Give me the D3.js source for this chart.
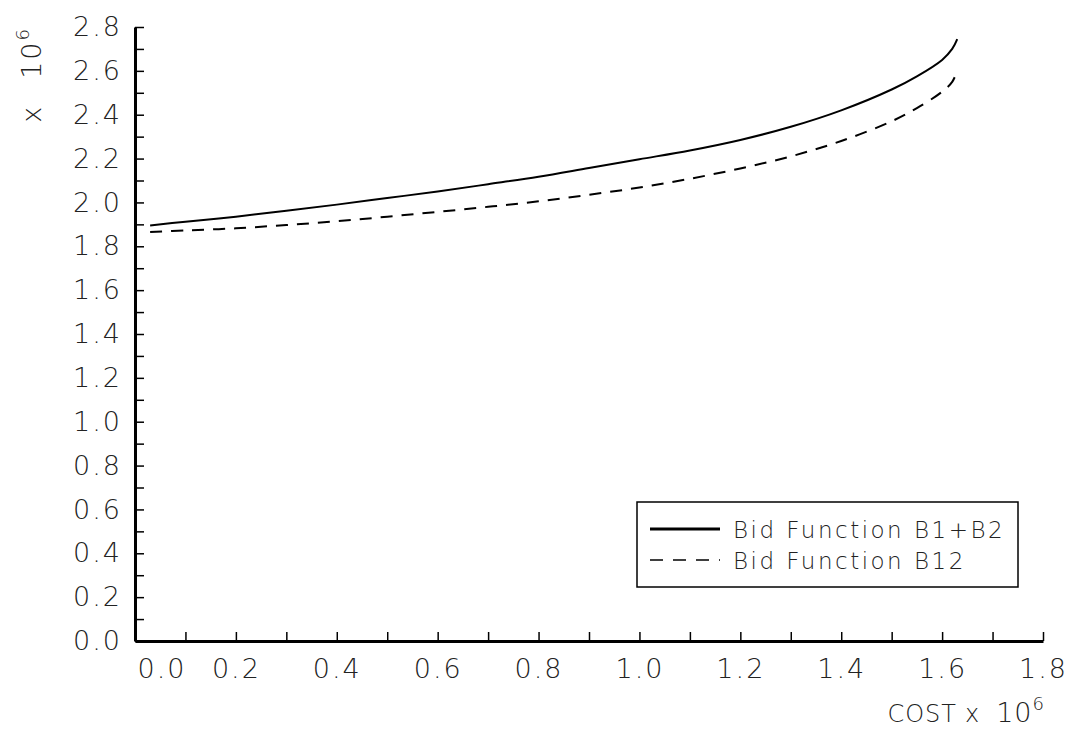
<!DOCTYPE html>
<html>
<head>
<meta charset="utf-8">
<script src="https://cdn.jsdelivr.net/npm/d3@7"></script>
<style>
  body { margin: 0; background: #fff; }
  text { font-family: "DejaVu Sans", sans-serif; font-weight: 200; fill: #222; }
</style>
</head>
<body>
<svg id="chart"></svg>
<script>
// cost values (x 10^6)
var cost = [0.03, 0.1, 0.2, 0.3, 0.4, 0.5, 0.6, 0.7, 0.8, 0.9, 1.0, 1.1, 1.2, 1.3, 1.4, 1.5, 1.55, 1.6, 1.62, 1.63];
var bidB1B2 = [1.895, 1.912, 1.935, 1.962, 1.99, 2.02, 2.05, 2.083, 2.117, 2.157, 2.197, 2.237, 2.285, 2.345, 2.42, 2.515, 2.575, 2.65, 2.7, 2.745];
var bidB12  = [1.865, 1.872, 1.882, 1.897, 1.914, 1.935, 1.957, 1.98, 2.005, 2.035, 2.068, 2.108, 2.155, 2.21, 2.28, 2.37, 2.43, 2.505, 2.55, 2.60];

var xTickLabels = ["0.0", "0.2", "0.4", "0.6", "0.8", "1.0", "1.2", "1.4", "1.6", "1.8"];
var yTickLabels = ["0.0", "0.2", "0.4", "0.6", "0.8", "1.0", "1.2", "1.4", "1.6", "1.8", "2.0", "2.2", "2.4", "2.6", "2.8"];
var seriesNames = ["Bid Function B1+B2", "Bid Function B12"];

var width = 1075, height = 738;
var svg = d3.select("#chart")
    .attr("width", width)
    .attr("height", height);

var x = d3.scaleLinear().domain([0, 1.8]).range([135, 1043]);
var y = d3.scaleLinear().domain([0, 2.8]).range([641, 27]);

// axes: ticks every 0.1, labels every 0.2, ticks pointing inward
var yTicks = d3.range(0, 29).map(i => i / 10);
var xTicks = d3.range(0, 19).map(i => i / 10);

var yAxis = d3.axisLeft(y)
    .tickValues(yTicks)
    .tickSize(-9)
    .tickSizeOuter(0)
    .tickPadding(13)
    .tickFormat((d, i) => i % 2 === 0 ? yTickLabels[i / 2] : "");

var xAxis = d3.axisBottom(x)
    .tickValues(xTicks)
    .tickSize(-9)
    .tickSizeOuter(0)
    .tickPadding(18)
    .tickFormat((d, i) => i % 2 === 0 ? xTickLabels[i / 2] : "");

var gy = svg.append("g").attr("transform", "translate(" + 135 + ",0)").call(yAxis);
var gx = svg.append("g").attr("transform", "translate(0," + 641 + ")").call(xAxis);

[gx, gy].forEach(g => {
  g.select(".domain").attr("stroke", "#000").attr("stroke-width", 3);
  g.selectAll(".tick line").attr("stroke", "#000").attr("stroke-width", 1.5);
  g.selectAll(".tick text")
      .attr("font-size", 27)
      .attr("letter-spacing", 2)
      .attr("font-family", null);
});

// first x label sits clear of the y axis
gx.select(".tick text").attr("text-anchor", "start").attr("x", 2);

// curves
var line = d3.line()
    .x(d => x(d[0]))
    .y(d => y(d[1]))
    .curve(d3.curveCatmullRom.alpha(0.5));

svg.append("path")
    .datum(cost.map((c, i) => [c, bidB1B2[i]]))
    .attr("d", line)
    .attr("fill", "none")
    .attr("stroke", "#000")
    .attr("stroke-width", 2);

svg.append("path")
    .datum(cost.map((c, i) => [c, bidB12[i]]))
    .attr("d", line)
    .attr("fill", "none")
    .attr("stroke", "#000")
    .attr("stroke-width", 2)
    .attr("stroke-dasharray", "12,9");

// axis titles
var ylab = svg.append("text")
    .attr("transform", "translate(41,27) rotate(-90)")
    .attr("text-anchor", "end")
    .attr("letter-spacing", 2)
    .attr("font-size", 27);
ylab.append("tspan").text("x");
ylab.append("tspan").attr("dx", 26).text("10");
ylab.append("tspan").attr("font-size", 18).attr("dy", -12).text("6");

var xlab = svg.append("text")
    .attr("x", 1045)
    .attr("y", 722)
    .attr("text-anchor", "end")
    .attr("letter-spacing", 1)
    .attr("font-size", 24);
xlab.append("tspan").text("COST");
xlab.append("tspan").attr("dx", 8).text("x");
xlab.append("tspan").attr("dx", 16).attr("font-size", 27).text("10");
xlab.append("tspan").attr("font-size", 18).attr("dy", -12).text("6");

// legend
var legend = svg.append("g");
legend.append("rect")
    .attr("x", 637).attr("y", 502)
    .attr("width", 381).attr("height", 85)
    .attr("fill", "#fff")
    .attr("stroke", "#000")
    .attr("stroke-width", 1.5);

var legRows = legend.selectAll(".row")
    .data(seriesNames)
  .enter().append("g")
    .attr("transform", (d, i) => "translate(0," + (529 + i * 31) + ")");

legRows.append("line")
    .attr("x1", 650).attr("x2", 720)
    .attr("stroke", "#000")
    .attr("stroke-width", (d, i) => i === 0 ? 3 : 1.5)
    .attr("stroke-dasharray", (d, i) => i === 0 ? null : "13,10,13,10,13,10,1.5,100");

legRows.append("text")
    .attr("x", 733)
    .attr("y", 9)
    .attr("font-size", 23)
    .attr("letter-spacing", 2.5)
    .text(d => d);
</script>
</body>
</html>
